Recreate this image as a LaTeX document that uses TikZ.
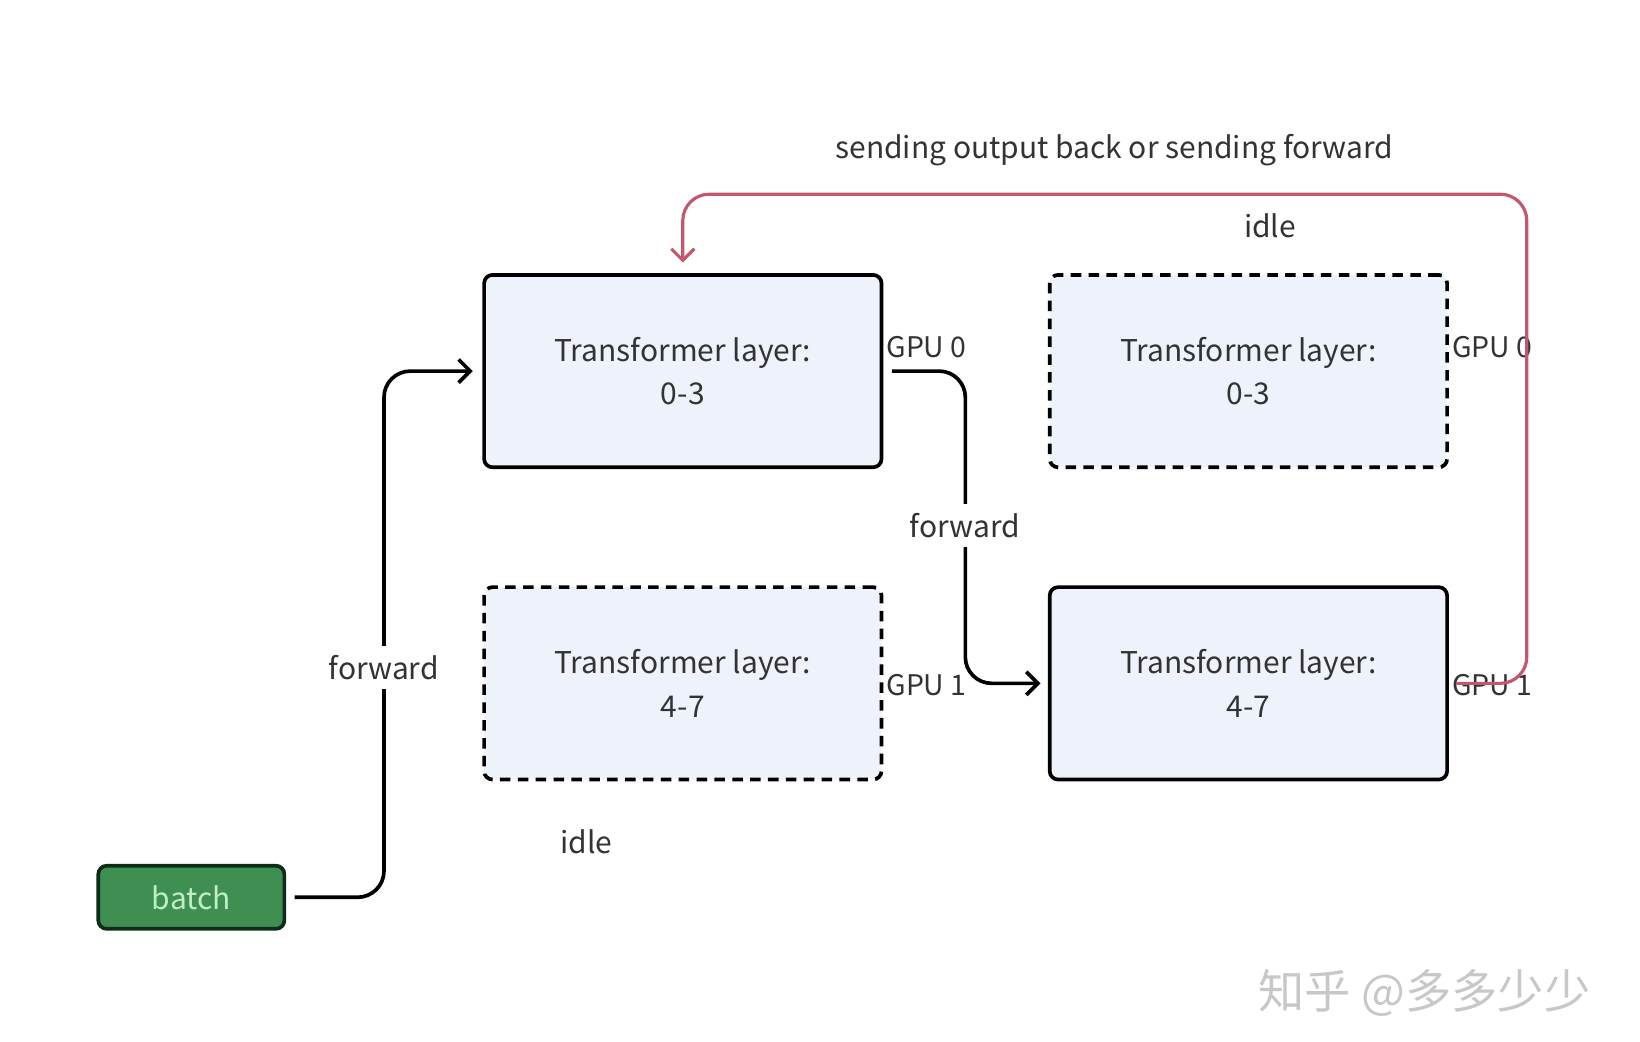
\documentclass[tikz,border=0pt]{standalone}
\usepackage{fontspec}
\setmainfont{Noto Sans CJK SC}
\usepackage{tikz}
\usetikzlibrary{arrows.meta}
\definecolor{lblue}{HTML}{EEF2FB}
\definecolor{dred}{HTML}{C4566E}
\definecolor{bgreen}{HTML}{3F8E52}
\definecolor{dgreen}{HTML}{0F2D16}
\definecolor{lgreen}{HTML}{BDF0C4}
\definecolor{txt}{HTML}{333333}

\begin{document}
\begin{tikzpicture}[x=1pt,y=-1pt,
  every node/.style={text=txt,font=\fontsize{28.5}{41}\selectfont},
  layer/.style={draw=black,line width=3.5pt,fill=lblue,rounded corners=8pt,
    minimum width=378pt,minimum height=183pt,inner sep=0pt,align=center},
  idlebox/.style={layer,dash pattern=on 10pt off 7pt},
  gpu/.style={anchor=west,inner sep=0pt,font=\fontsize{27}{30}\selectfont},
  lbl/.style={fill=white,inner xsep=3pt,inner ysep=9pt},
  fwd/.style={line width=3.5pt,rounded corners=25pt,
    -{Straight Barb[length=11pt,width=22pt,line width=3.5pt]}},
  back/.style={fwd,draw=dred,line width=3pt,
    -{Straight Barb[length=11pt,width=22pt,line width=3pt]}}]
\useasboundingbox (0,0) rectangle (1560,991);
% boxes
\node[layer] (l03) at (649.5,353) {Transformer layer:\\0-3};
\node[idlebox] (l03b) at (1187.5,353) {Transformer layer:\\0-3};
\node[idlebox] (l47) at (649.5,650) {Transformer layer:\\4-7};
\node[layer] (l47b) at (1187.5,650) {Transformer layer:\\4-7};
\node[draw=dgreen,fill=bgreen,line width=3.5pt,rounded corners=8pt,
  minimum width=177pt,minimum height=60pt,text=lgreen] (batch) at (182,853.5) {batch};
% gpu labels
\node[gpu] (g0a) at (843,330) {GPU 0};
\node[gpu] (g0b) at (1381,330) {GPU 0};
\node[gpu] (g1a) at (843,652) {GPU 1};
\node[gpu] (g1b) at (1381,652) {GPU 1};
% arrows
\draw[fwd] ([xshift=8pt]batch.east) -- ++(85,0) |- ([xshift=-9pt]l03.west);
\draw[fwd] ([xshift=8pt]l03.east) -- ++(70,0) |- ([xshift=-7pt]l47b.west);
\draw[back] ([xshift=7pt]l47b.east) -- ++(67,0) |- ([yshift=75pt]l03.north)
  -- ([yshift=10pt]l03.north);
% labels
\node[lbl] (f1) at (365,635) {forward};
\node[lbl] (f2) at (918,500) {forward};
\node (idle1) at (1208,215) {idle};
\node (idle2) at (558,801) {idle};
\node (title) at (1060,143) {sending output back or sending forward};
\node[text=black!22,font=\fontsize{44}{50}\selectfont] (wm) at (1355,945) {知乎 @多多少少};
\end{tikzpicture}
\end{document}
